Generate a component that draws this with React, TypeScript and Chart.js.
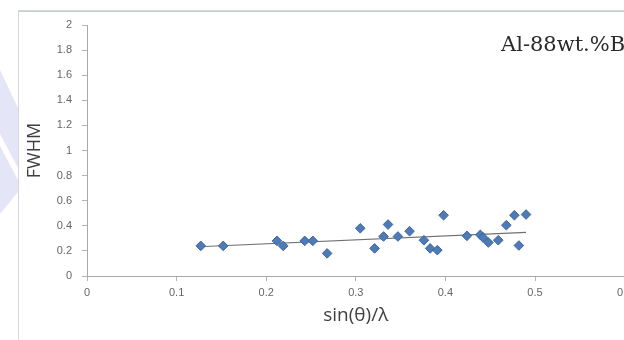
import React, { useEffect, useRef } from 'react';
import { Chart, registerables } from 'chart.js';

Chart.register(...registerables);

// sin(theta)/lambda values of the measured peaks
const sinThetaOverLambda = [
  0.127, 0.152, 0.212, 0.219, 0.243, 0.252, 0.268, 0.305, 0.321, 0.331, 0.336, 0.347, 0.36,
  0.376, 0.383, 0.391, 0.398, 0.424, 0.439, 0.442, 0.448, 0.459, 0.468, 0.477, 0.482, 0.49,
];
// FWHM values of the measured peaks
const fwhm = [
  0.24, 0.24, 0.28, 0.24, 0.28, 0.28, 0.18, 0.38, 0.22, 0.315, 0.41, 0.315, 0.357,
  0.285, 0.22, 0.206, 0.484, 0.32, 0.328, 0.307, 0.267, 0.285, 0.405, 0.484, 0.243, 0.49,
];
// linear trend line end points
const trendX = [0.125, 0.49];
const trendY = [0.233, 0.348];

const yTicksMin = 0;
const yTicksMax = 2;
const yStep = 0.2;
const xTicksMin = 0;
const xTicksMax = 0.6;
const xStep = 0.1;

const chartTitle = 'Al-88wt.%Bi';
const xTitle = 'sin(θ)/λ';
const yTitle = 'FWHM';

const CANVAS_W = 700;
const CANVAS_H = 340;

const fmt = (v: number) => String(Math.round(v * 10) / 10);

const decorPlugin = {
  id: 'decor',
  beforeDraw(chart: any) {
    const ctx = chart.ctx as CanvasRenderingContext2D;
    ctx.save();
    ctx.fillStyle = '#ffffff';
    ctx.fillRect(0, 0, chart.width, chart.height);
    // faint watermark shapes on the left
    ctx.fillStyle = 'rgba(205, 210, 240, 0.55)';
    ctx.beginPath();
    ctx.moveTo(0, 70);
    ctx.lineTo(18, 108);
    ctx.lineTo(18, 168);
    ctx.lineTo(0, 134);
    ctx.closePath();
    ctx.fill();
    ctx.beginPath();
    ctx.moveTo(0, 146);
    ctx.lineTo(18, 180);
    ctx.lineTo(18, 192);
    ctx.lineTo(0, 214);
    ctx.closePath();
    ctx.fill();
    // figure frame
    ctx.strokeStyle = '#d3d7de';
    ctx.lineWidth = 1;
    ctx.strokeRect(18.5, 10.5, 2000, 2000);
    ctx.strokeStyle = '#c9ced6';
    ctx.beginPath();
    ctx.moveTo(18, 11.5);
    ctx.lineTo(chart.width, 11.5);
    ctx.stroke();
    ctx.restore();
  },
  afterDraw(chart: any) {
    const ctx = chart.ctx as CanvasRenderingContext2D;
    ctx.save();
    ctx.fillStyle = '#2a2a2a';
    ctx.font = '21px "DejaVu Serif"';
    ctx.textAlign = 'left';
    ctx.textBaseline = 'alphabetic';
    ctx.fillText(chartTitle, 501, 51);
    ctx.restore();
  },
};

export default function App() {
  const ref = useRef<HTMLCanvasElement>(null);

  useEffect(() => {
    if (!ref.current) return;
    const points = sinThetaOverLambda.map((x, i) => ({ x, y: fwhm[i] }));
    const trend = trendX.map((x, i) => ({ x, y: trendY[i] }));
    const tickFont = { family: '"Liberation Sans", sans-serif', size: 11 };
    const titleFont = { family: '"Open Sans", sans-serif', size: 18 };
    const xTitleFont = { family: '"Open Sans", sans-serif', size: 19 };

    const chart = new Chart(ref.current, {
      type: 'scatter',
      data: {
        datasets: [
          {
            type: 'scatter',
            data: points,
            pointStyle: 'rectRot',
            pointRadius: 4.8,
            backgroundColor: '#4d7bb8',
            borderColor: '#3d6499',
            borderWidth: 1,
            order: 0,
          },
          {
            type: 'line',
            data: trend,
            showLine: true,
            pointRadius: 0,
            borderColor: '#707070',
            borderWidth: 1.2,
            fill: false,
            order: 1,
          } as any,
        ],
      },
      plugins: [decorPlugin],
      options: {
        responsive: false,
        animation: false,
        events: [],
        layout: { padding: { left: 0, right: CANVAS_W - 624.6, top: 25, bottom: 0 } },
        plugins: {
          legend: { display: false },
          tooltip: { enabled: false },
          title: { display: false },
        },
        scales: {
          x: {
            type: 'linear',
            min: xTicksMin,
            max: xTicksMax,
            afterFit: (s: any) => {
              s.height = CANVAS_H - 276;
            },
            ticks: {
              stepSize: xStep,
              callback: (v: any) => fmt(Number(v)),
              font: tickFont,
              color: '#666666',
              padding: 5,
              maxRotation: 0,
            },
            grid: {
              display: true,
              drawOnChartArea: false,
              drawTicks: true,
              tickLength: 5,
              color: '#b4b4b4',
            },
            border: { display: true, color: '#a8a8a8', width: 1 },
            title: {
              display: true,
              text: xTitle,
              font: xTitleFont,
              color: '#404040',
              padding: { top: 0, bottom: 13 },
            },
          },
          y: {
            type: 'linear',
            min: yTicksMin,
            max: yTicksMax,
            afterFit: (s: any) => {
              s.width = 87;
            },
            ticks: {
              stepSize: yStep,
              callback: (v: any) => fmt(Number(v)),
              font: tickFont,
              color: '#666666',
              padding: 10,
            },
            grid: {
              display: true,
              drawOnChartArea: false,
              drawTicks: true,
              tickLength: 5,
              color: '#b4b4b4',
            },
            border: { display: true, color: '#a8a8a8', width: 1 },
            title: {
              display: true,
              text: yTitle,
              font: titleFont,
              color: '#404040',
              padding: { top: 24, bottom: 0 },
            },
          },
        },
      },
    } as any);

    return () => chart.destroy();
  }, []);

  return (
    <div
      style={{
        position: 'fixed',
        left: 0,
        top: 0,
        width: 624,
        height: 340,
        overflow: 'hidden',
        background: '#ffffff',
      }}
    >
      <canvas
        ref={ref}
        width={CANVAS_W}
        height={CANVAS_H}
        style={{ display: 'block', width: CANVAS_W, height: CANVAS_H }}
      />
    </div>
  );
}
